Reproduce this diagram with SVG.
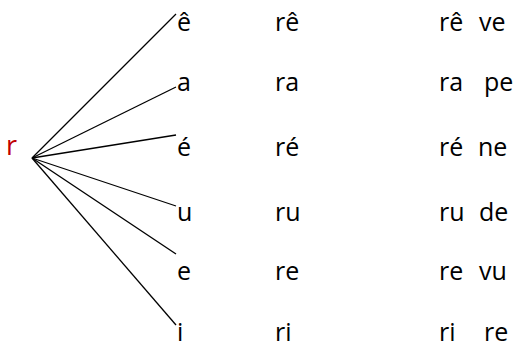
<svg xmlns="http://www.w3.org/2000/svg" width="518" height="347" viewBox="0 0 518 347">
<style>
text{font-family:"Open Sans","Noto Sans",sans-serif;font-size:25px;fill:#000}
.root{fill:#C00000;font-size:27px}
.c line{stroke:#000;stroke-width:1.3}
</style>
<rect width="518" height="347" fill="#fff"/>
<g id="connectors" class="c">
<line x1="32" y1="158" x2="176" y2="14"/>
<line x1="32" y1="158" x2="176" y2="87"/>
<line x1="32" y1="158" x2="176" y2="135"/>
<line x1="32" y1="158" x2="176" y2="206"/>
<line x1="32" y1="158" x2="176" y2="254"/>
<line x1="32" y1="158" x2="176" y2="325"/>
</g>
<g id="n-r"><text class="root" x="6" y="155">r</text></g>
<g id="row1"><text x="177" y="31">ê</text><text x="275" y="31">rê</text><text x="439" y="31">rê<tspan x="479">ve</tspan></text></g>
<g id="row2"><text x="177" y="91">a</text><text x="275" y="91">ra</text><text x="439" y="91">ra<tspan x="484">pe</tspan></text></g>
<g id="row3"><text x="177" y="156">é</text><text x="275" y="156">ré</text><text x="439" y="156">ré<tspan x="478">ne</tspan></text></g>
<g id="row4"><text x="177" y="221">u</text><text x="275" y="221">ru</text><text x="439" y="221">ru<tspan x="479">de</tspan></text></g>
<g id="row5"><text x="177" y="280">e</text><text x="275" y="280">re</text><text x="439" y="280">re<tspan x="479">vu</tspan></text></g>
<g id="row6"><text x="177" y="341">i</text><text x="275" y="341">ri</text><text x="439" y="341">ri<tspan x="484">re</tspan></text></g>
</svg>
